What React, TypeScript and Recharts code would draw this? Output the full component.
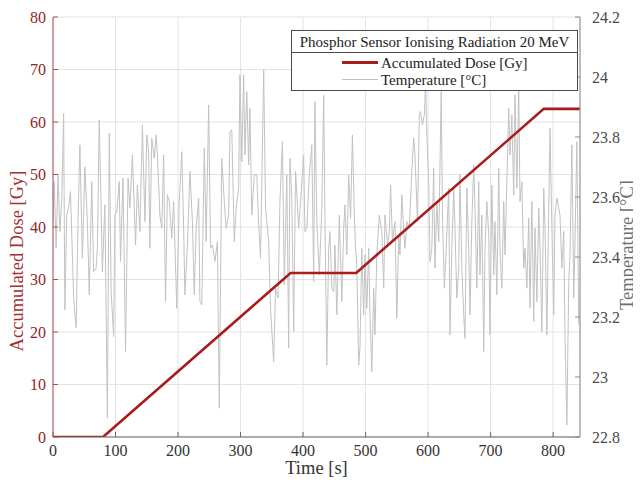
import React from 'react';
import { ComposedChart, Line, XAxis, YAxis, CartesianGrid, Legend } from 'recharts';

const doseTime = [0, 80, 380, 485, 785, 843];
const doseValue = [0, 0, 31.25, 31.25, 62.5, 62.5];

const tempTime = [
  0, 2, 5, 8, 11, 14, 17, 19, 22, 25,
  28, 33, 37, 40, 43, 47, 51, 55, 58, 62,
  65, 69, 71, 74, 79, 83, 87, 90, 93, 97,
  99, 102, 106, 108, 112, 116, 120, 123, 127, 132,
  135, 139, 143, 147, 150, 153, 155, 158, 162, 165,
  167, 171, 174, 177, 180, 183, 186, 190, 193, 198,
  202, 206, 209, 211, 215, 219, 223, 226, 229, 233,
  235, 238, 242, 245, 249, 252, 255, 259, 263, 266,
  270, 274, 277, 281, 283, 286, 290, 293, 297, 299,
  302, 305, 307, 310, 313, 315, 318, 322, 326, 329,
  332, 337, 340, 345, 348, 353, 356, 360, 363, 367,
  370, 374, 377, 379, 382, 385, 388, 393, 396, 401,
  403, 406, 410, 414, 417, 419, 422, 426, 430, 433,
  435, 438, 441,
  443, 446, 449, 451, 454, 458, 462, 465, 467, 470,
  473, 476, 479, 482, 484, 486, 489, 491, 494, 497,
  499, 502, 505, 507, 510, 513, 515, 518, 522, 526,
  529, 531, 535, 538, 540, 543, 547, 550, 553, 555,
  558, 561, 563, 566, 570, 574, 577, 579, 583, 586,
  588, 591, 594, 596, 598, 601, 603, 606, 609, 611,
  614, 617, 621, 623, 626, 629, 633, 635, 638, 641,
  643, 646, 649, 651, 654, 657, 659, 662, 665, 667,
  670, 673, 675, 678, 681, 683, 686, 689, 691, 694,
  697, 699, 702, 705, 707, 710, 713, 715, 718, 721,
  723, 726, 729, 731, 734, 737, 739, 742, 745, 747,
  750, 753, 755, 758, 761, 763, 766, 769, 771, 774,
  777, 779, 782, 785, 787, 790, 793, 795, 798, 801,
  803, 806, 809, 811, 814, 817, 819, 822, 825, 827,
  830, 833, 835, 838, 841,
];

const tempValue = [
  23.518, 23.651, 23.429, 23.674, 23.485, 23.585, 23.879, 23.224, 23.540, 23.563,
  23.618, 23.263, 23.163, 23.518, 23.774, 23.396, 23.701, 23.518, 23.274, 23.651,
  23.351, 23.363, 23.429, 23.857, 23.351, 23.574, 22.863, 23.813, 23.285, 23.135,
  23.540, 23.551, 23.651, 23.385, 23.663, 23.085, 23.663, 23.563, 23.740, 23.440,
  23.640, 23.485, 23.840, 23.518, 23.807, 23.751, 23.429, 23.796, 23.729, 23.807,
  23.740, 23.540, 23.496, 23.740, 23.251, 23.607, 23.585, 23.463, 23.585, 23.229,
  23.585, 23.751, 23.496, 23.274, 23.440, 23.685, 23.518, 23.274, 23.496, 23.596,
  23.251, 23.240, 23.763, 23.451, 23.907, 23.429, 23.440, 23.385, 23.451, 22.896,
  23.729, 23.585, 23.496, 23.540, 23.818, 23.824, 23.451, 23.563, 23.629, 24.007,
  23.718, 24.007, 23.740, 23.951, 23.707, 23.896, 23.540, 23.674, 23.674, 23.507,
  23.396, 24.024, 23.563, 23.451, 23.229, 23.051, 23.296, 23.263, 23.585, 23.785,
  23.307, 23.674, 23.096, 23.729, 23.596, 23.151, 23.685, 23.496, 23.585, 23.740,
  23.485, 23.496, 23.674, 23.774, 23.318, 23.918, 23.518, 23.340, 23.563, 23.940,
  23.540, 23.040, 23.429,
  23.485, 23.296, 23.285, 23.440, 23.207, 23.540, 23.251, 23.496, 23.574, 23.407,
  23.674, 23.529, 23.807, 23.540, 23.429, 23.374, 23.040, 23.096, 23.429, 23.207,
  23.407, 23.229, 23.429, 23.207, 23.018, 23.296, 23.140, 23.407, 23.540, 23.485,
  23.296, 23.540, 23.440, 23.485, 23.640, 23.451, 23.518, 23.196, 23.474, 23.407,
  23.607, 23.485, 23.429, 23.518, 23.496, 23.685, 23.796, 23.740, 23.518, 23.874,
  23.885, 23.840, 23.874, 23.974, 23.807, 23.651, 23.385, 23.429, 23.696, 23.363,
  23.585, 23.451, 23.951, 23.540, 23.296, 23.429, 23.629, 23.140, 23.429, 23.629,
  23.496, 23.263, 23.363, 23.674, 23.363, 23.207, 23.129, 23.629, 23.429, 23.207,
  23.518, 23.707, 23.563, 23.296, 23.651, 23.340, 23.540, 23.085, 23.429, 23.585,
  23.474, 23.140, 23.640, 23.340, 23.518, 23.274, 23.696, 23.429, 23.296, 23.585,
  23.407, 23.651, 23.896, 23.740, 23.874, 23.607, 23.940, 23.629, 23.962, 23.585,
  23.651, 23.363, 23.429, 23.296, 23.529, 23.229, 23.585, 23.185, 23.496, 23.251,
  23.563, 23.429, 23.151, 23.629, 23.496, 23.140, 23.563, 23.829, 23.496, 23.207,
  23.540, 23.596, 23.563, 23.540, 23.363, 23.485, 23.140, 22.840, 23.318, 23.407,
  23.774, 23.263, 23.451, 23.785, 23.174,
];

const timeTicks = [0, 100, 200, 300, 400, 500, 600, 700, 800];
const doseTicks = [0, 10, 20, 30, 40, 50, 60, 70, 80];
const tempTicks = [22.8, 23, 23.2, 23.4, 23.6, 23.8, 24, 24.2];

const legendTitle = 'Phosphor Sensor Ionising Radiation 20 MeV';
const doseName = 'Accumulated Dose [Gy]';
const tempName = 'Temperature [°C]';

const doseData = doseTime.map((t, i) => ({ t, dose: doseValue[i] }));
const tempData = tempTime.map((t, i) => ({ t, temp: tempValue[i] }));

const FONT = "'Liberation Serif', 'DejaVu Serif', serif";
const DOSE_COLOR = '#A81C1C';
const TEMP_COLOR = '#C2C2C2';
const TICK_FS = 16;
const LABEL_FS = 18.5;

const renderLegend = (props: any) => {
  const payload = props.payload || [];
  const find = (k: string) => payload.find((p: any) => p.dataKey === k) || {};
  const rows = [find('dose'), find('temp')];
  return (
    <div
      style={{
        border: '1px solid #4a4a4a',
        background: '#fff',
        fontFamily: FONT,
        fontSize: 15,
        color: '#222',
        lineHeight: '16px',
      }}
    >
      <div style={{ textAlign: 'center', padding: '3px 0 2px 0', borderBottom: '1px solid #4a4a4a', whiteSpace: 'nowrap' }}>
        {legendTitle}
      </div>
      <div style={{ padding: '1px 0 2px 0' }}>
        {rows.map((r: any, i: number) => (
          <div key={i} style={{ display: 'flex', alignItems: 'center', height: 17, paddingLeft: 50 }}>
            <div
              style={{
                width: 36,
                height: 0,
                borderTop: `${i === 0 ? 3 : 1}px solid ${r.color}`,
                marginRight: 3,
              }}
            />
            <span>{r.value}</span>
          </div>
        ))}
      </div>
    </div>
  );
};

const leftLabel = (props: any) => {
  const vb = props.viewBox;
  const cx = vb.x + 17;
  const cy = vb.y + vb.height / 2 + 34;
  return (
    <text
      x={cx}
      y={cy}
      transform={`rotate(-90 ${cx} ${cy})`}
      textAnchor="middle"
      dominantBaseline="central"
      fill="#A33030"
      fontFamily={FONT}
      fontSize={LABEL_FS}
    >
      {doseName}
    </text>
  );
};

const rightLabel = (props: any) => {
  const vb = props.viewBox;
  const cx = vb.x + 47;
  const cy = vb.y + vb.height / 2 + 18;
  return (
    <text
      x={cx}
      y={cy}
      transform={`rotate(-90 ${cx} ${cy})`}
      textAnchor="middle"
      dominantBaseline="central"
      fill="#6e6e6e"
      fontFamily={FONT}
      fontSize={LABEL_FS}
    >
      {tempName}
    </text>
  );
};

const bottomLabel = (props: any) => {
  const vb = props.viewBox;
  const cx = vb.x + vb.width / 2;
  const cy = vb.y + 31;
  return (
    <text x={cx} y={cy} textAnchor="middle" dominantBaseline="central" fill="#333" fontFamily={FONT} fontSize={LABEL_FS}>
      Time [s]
    </text>
  );
};

export default function App() {
  return (
    <div style={{ marginLeft: -8, marginTop: -8, width: 641, height: 486, background: '#fff' }}>
      <ComposedChart width={641} height={486} margin={{ top: 17, right: 0, bottom: 0, left: 0 }}>
        <CartesianGrid yAxisId="left" stroke="#E3E3E3" strokeWidth={1} />
        <XAxis
          dataKey="t"
          type="number"
          domain={[0, 843]}
          ticks={timeTicks}
          allowDataOverflow
          height={49}
          tickSize={-5}
          tickMargin={13}
          axisLine={{ stroke: '#666' }}
          tickLine={{ stroke: '#666' }}
          tick={{ fill: '#333', fontFamily: FONT, fontSize: TICK_FS }}
          interval={0}
          label={bottomLabel}
        />
        <XAxis
          xAxisId="top"
          orientation="top"
          type="number"
          domain={[0, 843]}
          ticks={timeTicks}
          allowDataOverflow
          height={0}
          tickSize={-5}
          axisLine={{ stroke: '#8a8a8a' }}
          tickLine={{ stroke: '#8a8a8a' }}
          tick={() => <g />}
          interval={0}
        />
        <YAxis
          yAxisId="left"
          orientation="left"
          type="number"
          domain={[0, 80]}
          ticks={doseTicks}
          allowDataOverflow
          width={53}
          tickSize={-5}
          tickMargin={12}
          axisLine={{ stroke: '#A85050' }}
          tickLine={{ stroke: '#A85050' }}
          tick={{ fill: '#8E2626', fontFamily: FONT, fontSize: TICK_FS }}
          interval={0}
          label={leftLabel}
        />
        <YAxis
          yAxisId="right"
          orientation="right"
          type="number"
          domain={[22.8, 24.2]}
          ticks={tempTicks}
          allowDataOverflow
          width={61}
          tickSize={-5}
          tickMargin={17}
          axisLine={{ stroke: '#8a8a8a' }}
          tickLine={{ stroke: '#8a8a8a' }}
          tick={{ fill: '#4a4a4a', fontFamily: FONT, fontSize: TICK_FS, textAnchor: 'start' }}
          interval={0}
          label={rightLabel}
        />
        <Line
          yAxisId="right"
          data={tempData}
          dataKey="temp"
          name={tempName}
          type="linear"
          stroke={TEMP_COLOR}
          strokeWidth={1}
          dot={false}
          activeDot={false}
          isAnimationActive={false}
        />
        <Line
          yAxisId="left"
          data={doseData}
          dataKey="dose"
          name={doseName}
          type="linear"
          stroke={DOSE_COLOR}
          strokeWidth={2.6}
          dot={false}
          activeDot={false}
          isAnimationActive={false}
        />
        <Legend
          layout="horizontal"
          verticalAlign="middle"
          align="center"
          content={renderLegend}
          wrapperStyle={{ position: 'absolute', left: 291, top: 30, width: 287, height: 'auto', margin: 0 }}
        />
      </ComposedChart>
    </div>
  );
}
